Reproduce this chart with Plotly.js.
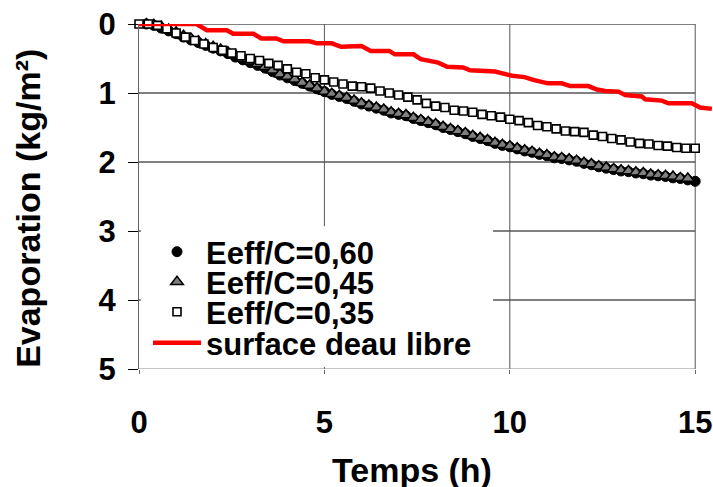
<!DOCTYPE html>
<html>
<head>
<meta charset="utf-8">
<script src="https://cdn.plot.ly/plotly-3.0.1.min.js"></script>
<style>html,body{margin:0;padding:0;background:#fff;}#chart{width:713px;height:487px;}</style>
</head>
<body>
<div id="chart"></div>
<script>
// ---- data ----
const seriesNames = ['Eeff/C=0,60', 'Eeff/C=0,45', 'Eeff/C=0,35', 'surface deau libre'];

const timeFine = [0.2,0.4,0.6,0.8,1.0,1.2,1.4,1.6,1.8,2.0,2.2,2.4,2.6,2.8,3.0,3.2,3.4,3.6,3.8,4.0,
  4.2,4.4,4.6,4.8,5.0,5.2,5.4,5.6,5.8,6.0,6.2,6.4,6.6,6.8,7.0,7.2,7.4,7.6,7.8,8.0,
  8.2,8.4,8.6,8.8,9.0,9.2,9.4,9.6,9.8,10.0,10.2,10.4,10.6,10.8,11.0,11.2,11.4,11.6,11.8,12.0,
  12.2,12.4,12.6,12.8,13.0,13.2,13.4,13.6,13.8,14.0,14.2,14.4,14.6,14.8,15.0];

const evap060 = [0.00,0.02,0.06,0.10,0.14,0.19,0.23,0.27,0.31,0.35,0.39,0.43,0.48,0.52,0.56,0.60,0.64,0.69,0.74,0.78,
  0.82,0.86,0.90,0.94,0.98,1.02,1.05,1.08,1.12,1.16,1.19,1.22,1.25,1.29,1.31,1.33,1.37,1.40,1.43,1.46,
  1.50,1.53,1.56,1.59,1.63,1.66,1.69,1.73,1.76,1.78,1.81,1.84,1.86,1.89,1.91,1.94,1.95,1.97,1.99,2.02,
  2.04,2.07,2.09,2.11,2.13,2.14,2.16,2.17,2.19,2.20,2.21,2.23,2.24,2.26,2.28];

const timeTri = [0.2,0.4,0.6,0.8,1.0,1.2,1.4,1.6,1.8,2.0,2.2,2.4,2.6,2.8,3.0,3.2,3.4,3.6,3.8,4.0,
  4.2,4.4,4.6,4.8,5.0,5.2,5.4,5.6,5.8,6.0,6.2,6.4,6.6,6.8,7.0,7.2,7.4,7.6,7.8,8.0,
  8.2,8.4,8.6,8.8,9.0,9.2,9.4,9.6,9.8,10.0,10.2,10.4,10.6,10.8,11.0,11.2,11.4,11.6,11.8,12.0,
  12.2,12.4,12.6,12.8,13.0,13.2,13.4,13.6,13.8,14.0,14.2,14.4,14.6,14.8];

const evap045 = [0.00,0.01,0.04,0.08,0.12,0.17,0.21,0.25,0.29,0.33,0.37,0.41,0.45,0.50,0.54,0.58,0.62,0.67,0.73,0.76,
  0.80,0.85,0.89,0.93,0.98,1.01,1.04,1.07,1.11,1.15,1.18,1.21,1.24,1.28,1.30,1.32,1.36,1.39,1.42,1.45,
  1.49,1.52,1.55,1.58,1.62,1.65,1.68,1.72,1.75,1.77,1.80,1.83,1.85,1.88,1.90,1.93,1.94,1.96,1.98,2.01,
  2.03,2.06,2.08,2.10,2.12,2.13,2.15,2.16,2.18,2.19,2.20,2.21,2.23,2.24];

const timeSq = [0,0.25,0.5,0.75,1.0,1.25,1.5,1.75,2.0,2.25,2.5,2.75,3.0,3.25,3.5,3.75,4.0,4.25,4.5,4.75,
  5.0,5.25,5.5,5.75,6.0,6.25,6.5,6.75,7.0,7.25,7.5,7.75,8.0,8.25,8.5,8.75,9.0,9.25,9.5,9.75,
  10.0,10.25,10.5,10.75,11.0,11.25,11.5,11.75,12.0,12.25,12.5,12.75,13.0,13.25,13.5,13.75,14.0,14.25,14.5,14.75,15.0];

const evap035 = [0.00,0.00,0.02,0.07,0.13,0.19,0.24,0.29,0.34,0.38,0.42,0.46,0.50,0.53,0.57,0.60,0.65,0.70,0.72,0.78,
  0.81,0.84,0.87,0.90,0.91,0.93,0.97,1.00,1.03,1.06,1.10,1.15,1.19,1.21,1.25,1.26,1.28,1.31,1.33,1.35,
  1.38,1.40,1.43,1.47,1.49,1.52,1.55,1.56,1.57,1.61,1.63,1.66,1.68,1.71,1.73,1.74,1.76,1.77,1.79,1.80,1.80];

const timeWater = [0,1.55,1.83,2.37,2.54,3.08,3.3,3.7,3.9,4.6,4.8,5.2,5.45,5.85,6.0,6.25,6.75,6.9,7.4,7.6,
  7.75,8.07,8.31,8.74,8.93,9.6,10.06,10.4,10.63,11.03,11.4,11.63,12.12,12.35,12.57,12.93,13.11,13.56,13.65,14.1,
  14.28,14.91,15.13,15.45];
const evapWater = [0,0,0.09,0.09,0.14,0.14,0.21,0.21,0.25,0.25,0.28,0.28,0.33,0.33,0.32,0.39,0.39,0.44,0.44,0.51,
  0.53,0.56,0.62,0.63,0.67,0.69,0.75,0.77,0.81,0.86,0.86,0.90,0.90,0.95,0.97,0.98,1.03,1.05,1.09,1.11,
  1.15,1.15,1.21,1.23];

const xTicks = [0, 5, 10, 15];
const yTicks = [0, 1, 2, 3, 4, 5];

// ---- drawing ----
const FONT = 'Liberation Sans, Arial, Helvetica, sans-serif';
const legendFont = {family: FONT, size: 31, color: '#000', weight: 'bold'};
const titleFont = {family: FONT, size: 34, color: '#000', weight: 'bold'};

const traces = [
  {x: timeFine, y: evap060, name: seriesNames[0], mode: 'markers', type: 'scatter', cliponaxis: false,
   marker: {symbol: 'circle', size: 10, color: '#000', line: {color: '#000', width: 1}}, legend: 'legend'},
  {x: timeTri, y: evap045, name: seriesNames[1], mode: 'markers', type: 'scatter', cliponaxis: false,
   marker: {symbol: 'triangle-up', size: 11, color: '#7f7f7f', line: {color: '#000', width: 1.5}}, legend: 'legend2'},
  {x: timeSq, y: evap035, name: seriesNames[2], mode: 'markers', type: 'scatter', cliponaxis: false,
   marker: {symbol: 'square', size: 8, color: '#fff', line: {color: '#000', width: 1.6}}, legend: 'legend3'},
  {x: timeWater, y: evapWater, name: seriesNames[3], mode: 'lines', type: 'scatter',
   line: {color: '#ff0000', width: 4.5}, legend: 'legend4'}
];

function rowLegend(py) {
  return {x: 0.0157, xanchor: 'left', y: py, yanchor: 'middle', font: legendFont,
          bgcolor: 'rgba(0,0,0,0)', borderwidth: 0, itemwidth: 48};
}

const shapes = [];
yTicks.slice(0, 5).forEach(v => shapes.push({type: 'line', layer: 'below', xref: 'x', yref: 'y',
  x0: 0, x1: 15, y0: v, y1: v, line: {color: '#000', width: 1}}));
xTicks.slice(1).forEach(v => shapes.push({type: 'line', layer: 'below', xref: 'x', yref: 'y',
  x0: v, x1: v, y0: 0, y1: 5, line: {color: '#555', width: 1}}));
shapes.push({type: 'line', layer: 'below', xref: 'x', yref: 'y', x0: 0, x1: 15, y0: 5, y1: 5,
  line: {color: '#888', width: 1}});
shapes.push({type: 'rect', layer: 'below', xref: 'x', yref: 'y', x0: 0.05, x1: 9.55, y0: 2.93, y1: 4.97,
  fillcolor: '#fff', line: {width: 0}});

const layout = {
  width: 713, height: 487,
  margin: {l: 139, r: 0, t: 24, b: 118, pad: 0},
  paper_bgcolor: '#fff', plot_bgcolor: 'rgba(0,0,0,0)',
  font: {family: FONT, color: '#000'},
  showlegend: true,
  xaxis: {range: [0, 15.48], tickvals: xTicks, ticktext: xTicks.map(String), showgrid: false, zeroline: false,
    showline: false, ticks: 'outside', ticklen: 4, tickcolor: '#666', tickwidth: 1, ticklabelstandoff: 22,
    tickfont: {family: FONT, size: 31, color: '#000', weight: 'bold'}},
  yaxis: {range: [5, 0], tickvals: yTicks, ticktext: yTicks.map(String), showgrid: false, zeroline: false,
    showline: true, linecolor: '#666', linewidth: 1, ticks: 'outside', ticklen: 10, tickcolor: '#000', tickwidth: 1,
    ticklabelstandoff: 6, tickfont: {family: FONT, size: 31, color: '#000', weight: 'bold'}},
  legend: rowLegend(0.339),
  legend2: rowLegend(0.252),
  legend3: rowLegend(0.165),
  legend4: rowLegend(0.075),
  shapes: shapes,
  annotations: [
    {text: 'Evaporation (kg/m²)', textangle: -90, xref: 'paper', yref: 'paper', x: -0.1934, y: 0.467,
     xanchor: 'center', yanchor: 'middle', showarrow: false, font: titleFont},
    {text: 'Temps (h)', xref: 'paper', yref: 'paper', x: 0.4756, y: -0.292,
     xanchor: 'center', yanchor: 'middle', showarrow: false, font: titleFont}
  ]
};

Plotly.newPlot('chart', traces, layout, {displayModeBar: false, staticPlot: true});
</script>
</body>
</html>
